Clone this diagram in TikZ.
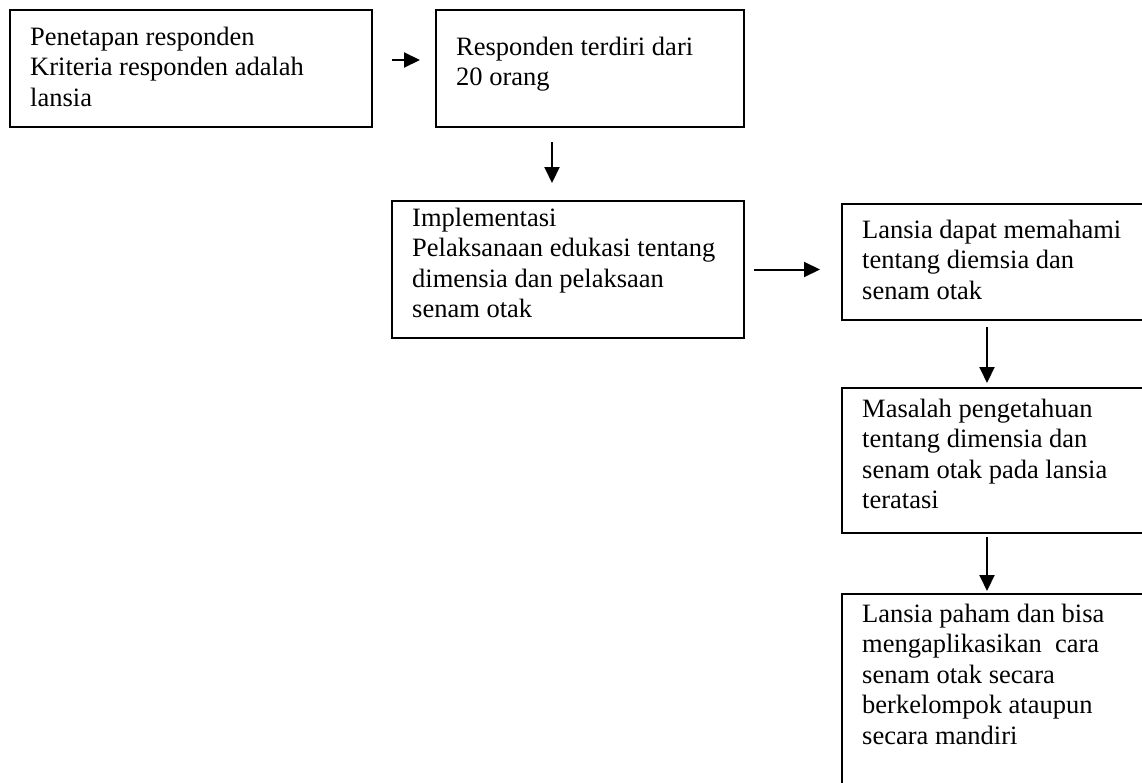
\documentclass[tikz,border=0pt]{standalone}
\usepackage{fontspec}
\setmainfont{Liberation Serif}
\usetikzlibrary{calc,arrows.meta}
\begin{document}
\begin{tikzpicture}[x=1pt,y=-1pt,
  box/.style={draw,line width=2pt,inner sep=0pt,anchor=north west},
  txt/.style={anchor=base west,inner sep=0pt,align=left,font=\fontsize{26.5}{30.5}\selectfont},
  arr/.style={line width=2pt,-{Triangle[length=16pt,width=15pt]}}]
\useasboundingbox (0,0) rectangle (1142,782);
\clip (0,0) rectangle (1142,782);
\node[box,minimum width=362pt,minimum height=117pt] (A) at (9,9) {};
\node[box,minimum width=308pt,minimum height=117pt] (B) at (435,9) {};
\node[box,minimum width=352pt,minimum height=137pt] (C) at (391,200) {};
\node[box,minimum width=320pt,minimum height=116pt] (D) at (841,203) {};
\node[box,minimum width=320pt,minimum height=145pt] (E) at (841,387) {};
\node[box,minimum width=320pt,minimum height=220pt] (F) at (841,593) {};
% base anchor = baseline of the last line
\node[txt] (tA) at (30,106) {Penetapan responden\\Kriteria responden adalah\\lansia};
\node[txt] (tB) at (456,85.5) {Responden terdiri dari\\20 orang};
\node[txt] (tC) at (412,317.5) {Implementasi\\Pelaksanaan edukasi tentang\\dimensia dan pelaksaan\\senam otak};
\node[txt] (tD) at (862,299) {Lansia dapat memahami\\tentang diemsia dan\\senam otak};
\node[txt] (tE) at (862,508.5) {Masalah pengetahuan\\tentang dimensia dan\\senam otak pada lansia\\teratasi};
\node[txt] (tF) at (862,744) {Lansia paham dan bisa\\mengaplikasikan\ \ cara\\senam otak secara\\berkelompok ataupun\\secara mandiri};
\draw[arr] ($(A.north east)+(19,51)$) -- ($(B.north west)+(-15,51)$);
\draw[arr] ($(B.south west)+(117,14)$) -- ($(C.north west)+(161,-17)$);
\draw[arr] ($(C.east)+(9,0)$) -- ($(C.east -| D.west)+(-21,0)$);
\draw[arr] ($(D.south west)+(146,6)$) -- ($(E.north west)+(146,-4)$);
\draw[arr] ($(E.south west)+(146,3)$) -- ($(F.north west)+(146,-2)$);
\end{tikzpicture}
\end{document}
